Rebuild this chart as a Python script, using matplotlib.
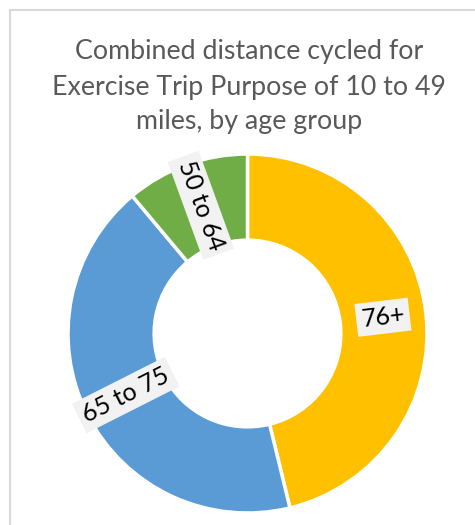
import numpy as np
import matplotlib
matplotlib.use("Agg")
import matplotlib.pyplot as plt
from matplotlib.patches import Rectangle

plt.rcParams["font.family"] = ["Lato", "DejaVu Sans"]

age_groups = ["76+", "65 to 75", "50 to 64"]
shares = [46.2, 42.7, 11.1]
colors = ["#FFC000", "#5B9BD5", "#70AD47"]

title = "Combined distance cycled for\nExercise Trip Purpose of 10 to 49\nmiles, by age group"

W, H = 475, 525
fig = plt.figure(figsize=(W / 100, H / 100), dpi=100)

# chart frame (right and bottom edges fall outside the picture)
fig.patches.append(Rectangle((10 / W, -0.1), 1.2, 1 - 10 / H + 0.1,
                             transform=fig.transFigure, fill=False,
                             edgecolor="#D9D9D9", linewidth=1.5))

fig.text(249 / W, 1 - 87 / H, title, ha="center", va="center",
         fontsize=19.3, color="#595959", linespacing=1.5)

cx, cy, r = 247.5, 333.5, 179.5
ax = fig.add_axes([(cx - r) / W, 1 - (cy + r) / H, 2 * r / W, 2 * r / H])
wedges, _ = ax.pie(shares, colors=colors, startangle=90, counterclock=False,
                   radius=1.0, wedgeprops=dict(width=0.48, edgecolor="white",
                                               linewidth=2.5))
ax.set_xlim(-1, 1)
ax.set_ylim(-1, 1)
ax.set_aspect("equal")
ax.axis("off")

total = sum(shares)
start = 90.0
for name, val in zip(age_groups, shares):
    span = 360 * val / total
    mid = start - span / 2
    start -= span
    rad = np.deg2rad(mid)
    x, y = 0.76 * np.cos(rad), 0.76 * np.sin(rad)
    rot = (mid + 90) % 180 - 90
    ax.text(x, y, name, ha="center", va="center", rotation=rot,
            rotation_mode="anchor", fontsize=18, color="black",
            bbox=dict(boxstyle="square,pad=0.2", facecolor="#F2F2F2",
                      edgecolor="none"))

fig.savefig("out.png", dpi=100)
